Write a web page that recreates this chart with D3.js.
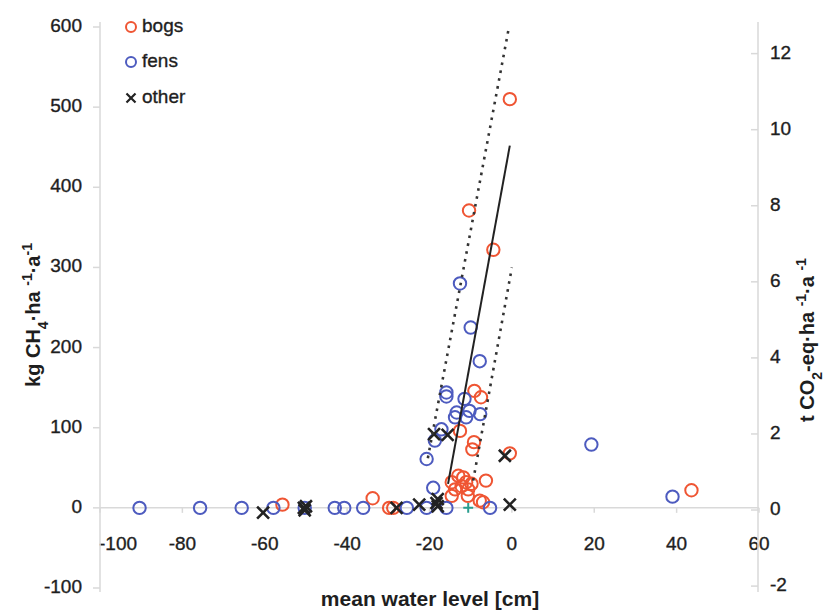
<!DOCTYPE html>
<html>
<head>
<meta charset="utf-8">
<script src="https://cdn.jsdelivr.net/npm/d3@7"></script>
<style>
  html, body { margin: 0; padding: 0; background: #fff; }
  svg { display: block; font-family: "Liberation Sans", Arial, sans-serif; }
</style>
</head>
<body>
<svg id="chart" width="824" height="610"></svg>
<script>
// ---- data ----
const bogs = [
  [-55.7, 4], [-33.8, 12], [-29.8, 0], [-28.8, 0],
  [-0.5, 510], [-10.4, 371], [-4.5, 322],
  [-9.1, 146], [-7.5, 138], [-12.6, 96], [-9.2, 82], [-9.6, 73], [-0.5, 68],
  [-14.6, 32], [-13, 40], [-11.8, 38], [-11.1, 32], [-12.2, 27], [-13.8, 23],
  [-10.6, 23], [-9.8, 30], [-14.6, 15], [-10.7, 15], [-6.3, 34], [-7.8, 9], [-7, 7],
  [43.6, 22]
];
const fens = [
  [-90.4, 0], [-75.7, 0], [-65.6, 0], [-57.9, 0], [-50.3, 0], [-43, 0], [-40.7, 0],
  [-36.1, 0], [-25.5, 0], [-20.7, 0], [-15.9, 0], [-5.3, 0],
  [-19.1, 25], [-20.7, 61], [-18.7, 84], [-17.1, 98], [-15.9, 144], [-15.9, 139],
  [-13.8, 113], [-13.4, 119], [-11.5, 136], [-10.3, 121], [-11.1, 113], [-7.7, 117],
  [-7.8, 183], [-10, 225], [-12.6, 280], [19.3, 79], [39, 14]
];
const other = [
  [-60.4, -6], [-50.5, 0], [-50.3, -3], [-50, 2], [-28, 0], [-22.5, 4],
  [-18, 11], [-18, 2], [-18.3, 6], [-18.9, 92], [-15.6, 91], [-1.7, 65], [-0.5, 4]
];
const unassigned = [[-10.6, 0]];
const fitLine = [[-15.5, 30], [-0.5, 452]];
const upperBand = [[-20.4, 62], [-0.7, 600]];
const lowerBand = [[-9.4, 34], [0, 300]];
const xTicks = [-100, -80, -60, -40, -20, 0, 20, 40, 60];
const yTicks = [-100, 0, 100, 200, 300, 400, 500, 600];
const y2Ticks = [-2, 0, 2, 4, 6, 8, 10, 12];
const legendItems = ["bogs", "fens", "other"];

// ---- layout ----
const svg = d3.select("#chart");
const x = d3.scaleLinear().domain([-100, 60]).range([100, 759]);
const y = d3.scaleLinear().domain([-100, 600]).range([588, 27]);
const y2 = d3.scaleLinear().domain([-2.05, 12.7]).range([588, 27]);

const cBog = "#ef5533", cFen = "#4d5bbf", cAxis = "#d9d9d9", cText = "#1e1e1e";
const fs = 19;

function label(sel) {
  return sel.attr("font-size", fs).attr("fill", cText)
    .attr("stroke", cText).attr("stroke-width", 0.35);
}

// x axis at y = 0
const y0 = y(0);
svg.append("line").attr("x1", x(-100)).attr("x2", x(60)).attr("y1", y0).attr("y2", y0)
  .attr("stroke", cAxis).attr("stroke-width", 1.5);
svg.selectAll(".xt").data(xTicks).join("line")
  .attr("x1", d => x(d)).attr("x2", d => x(d)).attr("y1", y0).attr("y2", y0 + 5)
  .attr("stroke", cAxis).attr("stroke-width", 1.5);
label(svg.selectAll(".xl").data(xTicks).join("text")
  .attr("x", d => x(d) + (d === -100 ? 18 : 0)).attr("y", 545)
  .attr("text-anchor", "middle").attr("dominant-baseline", "middle")
  .text(d => d));

// left axis
svg.append("line").attr("x1", 100).attr("x2", 100).attr("y1", 22).attr("y2", 592)
  .attr("stroke", cAxis).attr("stroke-width", 1.5);
svg.selectAll(".yt").data(yTicks).join("line")
  .attr("x1", 93).attr("x2", 100).attr("y1", d => y(d)).attr("y2", d => y(d))
  .attr("stroke", cAxis).attr("stroke-width", 1.5);
label(svg.selectAll(".yl").data(yTicks).join("text")
  .attr("x", 82).attr("y", d => y(d))
  .attr("text-anchor", "end").attr("dominant-baseline", "middle")
  .text(d => d));

// right axis
svg.append("line").attr("x1", 758).attr("x2", 758).attr("y1", 22).attr("y2", 592)
  .attr("stroke", cAxis).attr("stroke-width", 1.5);
svg.selectAll(".y2t").data(y2Ticks).join("line")
  .attr("x1", 751).attr("x2", 758).attr("y1", d => y2(d)).attr("y2", d => y2(d))
  .attr("stroke", cAxis).attr("stroke-width", 1.5);
label(svg.selectAll(".y2l").data(y2Ticks).join("text")
  .attr("x", 770).attr("y", d => y2(d))
  .attr("text-anchor", "start").attr("dominant-baseline", "middle")
  .text(d => d));

// axis titles
svg.append("text").attr("x", 430).attr("y", 600)
  .attr("text-anchor", "middle").attr("dominant-baseline", "middle")
  .attr("font-size", 21).attr("font-weight", "bold").attr("fill", cText)
  .text("mean water level [cm]");

function richTitle(g, parts) {
  const t = g.append("text").attr("text-anchor", "middle")
    .attr("font-size", 20).attr("font-weight", "bold").attr("fill", cText);
  parts.forEach(p => {
    const s = t.append("tspan").text(p[0]);
    if (p[1] === "sub") s.attr("baseline-shift", "sub").attr("font-size", 14);
    if (p[1] === "sup") s.attr("baseline-shift", "super").attr("font-size", 14);
  });
  return t;
}
const gl = svg.append("g").attr("transform", "translate(40,315) rotate(-90)");
richTitle(gl, [["kg CH"], ["4", "sub"], ["·ha "], ["-1", "sup"], ["·a"], ["-1", "sup"]]);
const gr = svg.append("g").attr("transform", "translate(814,340) rotate(-90)");
richTitle(gr, [["t CO"], ["2", "sub"], ["-eq·ha "], ["-1", "sup"], ["·a "], ["-1", "sup"]]);

// points
svg.append("g").selectAll("circle").data(bogs).join("circle")
  .attr("cx", d => x(d[0])).attr("cy", d => y(d[1])).attr("r", 6.2)
  .attr("fill", "none").attr("stroke", cBog).attr("stroke-width", 2);
svg.append("g").selectAll("circle").data(fens).join("circle")
  .attr("cx", d => x(d[0])).attr("cy", d => y(d[1])).attr("r", 6.2)
  .attr("fill", "none").attr("stroke", cFen).attr("stroke-width", 2);
svg.append("g").selectAll("path").data(other).join("path")
  .attr("transform", d => `translate(${x(d[0])},${y(d[1])})`)
  .attr("d", d3.symbol().type(d3.symbolTimes).size(95)())
  .attr("fill", "none").attr("stroke", "#222").attr("stroke-width", 2.6);
svg.append("g").selectAll("path").data(unassigned).join("path")
  .attr("transform", d => `translate(${x(d[0])},${y(d[1])})`)
  .attr("d", d3.symbol().type(d3.symbolPlus).size(34)())
  .attr("fill", "none").attr("stroke", "#2a9d8f").attr("stroke-width", 2);

// regression line and bands
const line = d3.line().x(d => x(d[0])).y(d => y(d[1]));
svg.append("path").datum(fitLine).attr("d", line)
  .attr("fill", "none").attr("stroke", "#222").attr("stroke-width", 2);
[upperBand, lowerBand].forEach(b => {
  svg.append("path").datum(b).attr("d", line)
    .attr("fill", "none").attr("stroke", "#333").attr("stroke-width", 2.6)
    .attr("stroke-dasharray", "2.6,5.4");
});

// legend
const lg = svg.append("g");
const ly = [27, 62, 98];
legendItems.forEach((name, i) => {
  if (i < 2) {
    lg.append("circle").attr("cx", 131).attr("cy", ly[i]).attr("r", 5)
      .attr("fill", "none").attr("stroke", i === 0 ? cBog : cFen).attr("stroke-width", 2);
  } else {
    lg.append("path").attr("transform", `translate(131,${ly[i]})`)
      .attr("d", d3.symbol().type(d3.symbolTimes).size(55)())
      .attr("fill", "none").attr("stroke", "#222").attr("stroke-width", 2.2);
  }
  label(lg.append("text").attr("x", 142).attr("y", ly[i])
    .attr("dominant-baseline", "middle").text(name));
});
</script>
</body>
</html>
